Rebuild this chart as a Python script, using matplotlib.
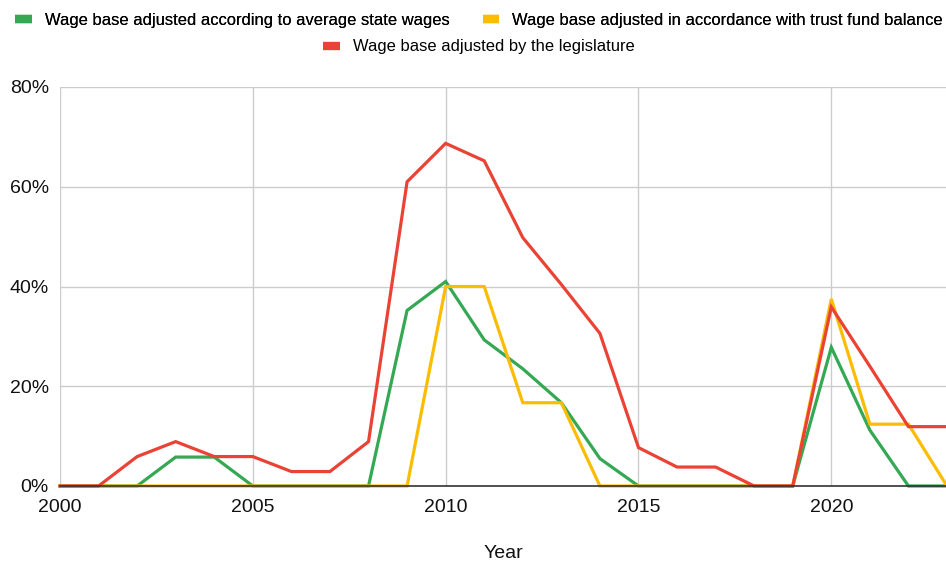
import matplotlib
matplotlib.use("Agg")
import matplotlib.pyplot as plt
from matplotlib.lines import Line2D
from matplotlib.ticker import FuncFormatter

plt.rcParams['font.family'] = ['Liberation Sans', 'DejaVu Sans']

years = list(range(2000, 2024))
avg_state_wages = [0, 0, 0, 5.8, 5.8, 0, 0, 0, 0, 35.2, 41.0, 29.3, 23.5, 16.7, 5.5,
                   0, 0, 0, 0, 0, 27.8, 11.2, 0, 0]
trust_fund = [0, 0, 0, 0, 0, 0, 0, 0, 0, 0, 40.0, 40.0, 16.7, 16.7, 0,
              0, 0, 0, 0, 0, 37.5, 12.4, 12.4, 0]
legislature = [0, 0, 5.9, 8.9, 5.9, 5.9, 2.9, 2.9, 8.9, 61.0, 68.7, 65.2, 49.8, 40.4, 30.6,
               7.7, 3.8, 3.8, 0, 0, 35.9, 24.0, 11.9, 11.9]

series_names = ["Wage base adjusted according to average state wages",
                "Wage base adjusted in accordance with trust fund balance",
                "Wage base adjusted by the legislature"]
colors = ["#34A853", "#FBBC04", "#EA4335"]

W, H = 946, 562
fig = plt.figure(figsize=(W / 100, H / 100), dpi=100)
ax = fig.add_axes([60 / W, (H - 486) / H, (947 - 60) / W, (486 - 87) / H])

for vals, c in zip([avg_state_wages, trust_fund, legislature], colors):
    ax.plot(years, vals, color=c, lw=2.3, solid_joinstyle='miter', clip_on=False, zorder=3)

ax.set_xlim(2000, 2023)
ax.set_ylim(0, 80)
ax.set_xticks([2000, 2005, 2010, 2015, 2020])
ax.set_yticks([0, 20, 40, 60, 80])
ax.yaxis.set_major_formatter(FuncFormatter(lambda v, p: f"{int(v)}%"))
ax.grid(True, color="#CCCCCC", lw=1)
ax.set_axisbelow(True)
for s in ["top", "right", "left"]:
    ax.spines[s].set_visible(False)
ax.spines["bottom"].set_color("#333333")
ax.spines["bottom"].set_linewidth(1.2)
ax.spines["bottom"].set_zorder(4)
ax.tick_params(length=0, labelsize=14, colors="#111111")
ax.tick_params(axis='y', pad=8)
ax.tick_params(axis='x', pad=9)
ax.set_xlabel("Year", fontsize=14, color="#111111", labelpad=21)

def handle(c):
    return Line2D([0], [0], color=c, lw=6, solid_capstyle='butt')

leg1 = fig.legend([handle(colors[0]), handle(colors[1])], series_names[:2],
                  loc='center', bbox_to_anchor=(479 / W, 1 - 20 / H), ncol=2,
                  frameon=False, fontsize=11.9, handlelength=1.0, handletextpad=0.8,
                  columnspacing=2.0, borderaxespad=0)
fig.legend([handle(colors[2])], series_names[2:],
           loc='center', bbox_to_anchor=(479 / W, 1 - 47 / H),
           frameon=False, fontsize=11.9, handlelength=1.0, handletextpad=0.8,
           borderaxespad=0)
fig.add_artist(leg1)

fig.savefig("out.png", dpi=100)
